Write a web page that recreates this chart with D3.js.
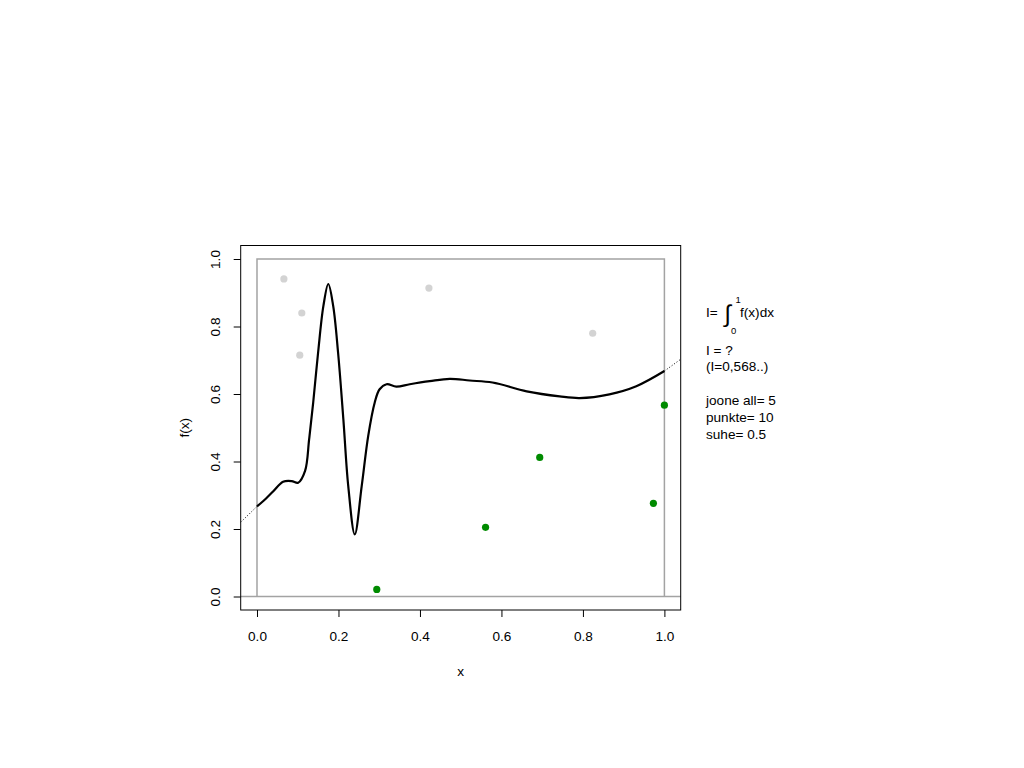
<!DOCTYPE html>
<html>
<head>
<meta charset="utf-8">
<script src="https://cdn.jsdelivr.net/npm/d3@7"></script>
<style>
  body { margin: 0; background: #fff; }
  svg { display: block; }
  text { font-family: "Liberation Sans", Arial, Helvetica, sans-serif; fill: #000; }
</style>
</head>
<body>
<svg id="chart" width="1024" height="768"></svg>
<script>
// ---- data ----
const curveX = [-0.040, 0.000, 0.0155, 0.040, 0.064, 0.085, 0.101, 0.118, 0.128, 0.138, 0.150, 0.163, 0.175, 0.187, 0.199, 0.212, 0.224, 0.240, 0.257, 0.273, 0.289, 0.301, 0.318, 0.342, 0.375, 0.424, 0.473, 0.522, 0.578, 0.662, 0.743, 0.792, 0.865, 0.931, 1.000, 1.040];
const curveY = [0.220, 0.267, 0.283, 0.312, 0.340, 0.342, 0.337, 0.372, 0.466, 0.575, 0.723, 0.861, 0.926, 0.861, 0.723, 0.525, 0.327, 0.184, 0.327, 0.476, 0.575, 0.614, 0.629, 0.622, 0.629, 0.638, 0.645, 0.640, 0.634, 0.608, 0.593, 0.588, 0.599, 0.623, 0.668, 0.703];
const grayX = [0.066, 0.110, 0.105, 0.422, 0.824];
const grayY = [0.941, 0.840, 0.715, 0.914, 0.780];
const greenX = [0.294, 0.561, 0.694, 0.973, 1.000];
const greenY = [0.021, 0.205, 0.412, 0.276, 0.567];
const xTicks = [0.0, 0.2, 0.4, 0.6, 0.8, 1.0];
const yTicks = [0.0, 0.2, 0.4, 0.6, 0.8, 1.0];
const infoLines = ["I = ?", "(I=0,568..)", "", "joone all= 5", "punkte= 10", "suhe= 0.5"];

// ---- layout ----
const svg = d3.select("#chart");
const L = 240.7, R = 680.7, T = 245.5, B = 610;
const x = d3.scaleLinear().domain([-0.04, 1.04]).range([L, R]);
const y = d3.scaleLinear().domain([-0.04, 1.04]).range([B, T]);
const fontSize = 13.6;
const ff = '"Liberation Sans", Arial, sans-serif';

// reference rectangle and y=0 line
const gray = "#a3a3a3";
svg.append("line").attr("x1", L).attr("x2", R).attr("y1", y(0)).attr("y2", y(0))
  .attr("stroke", gray).attr("stroke-width", 1.5);
svg.append("path")
  .attr("d", `M${x(0)},${y(0)}V${y(1)}H${x(1)}V${y(0)}`)
  .attr("fill", "none").attr("stroke", gray).attr("stroke-width", 1.5);

// curve
const pts = curveX.map((v, i) => [v, curveY[i]]);
const line = d3.line().x(d => x(d[0])).y(d => y(d[1])).curve(d3.curveCatmullRom.alpha(0.5));
const inside = pts.filter(d => d[0] >= 0 && d[0] <= 1);
const leftOut = pts.filter(d => d[0] <= 0);
const rightOut = pts.filter(d => d[0] >= 1);
svg.append("path").attr("d", line(leftOut)).attr("fill", "none")
  .attr("stroke", "#000").attr("stroke-width", 1).attr("stroke-dasharray", "1,2");
svg.append("path").attr("d", line(rightOut)).attr("fill", "none")
  .attr("stroke", "#000").attr("stroke-width", 1).attr("stroke-dasharray", "1,2");
svg.append("path").attr("d", line(inside)).attr("fill", "none")
  .attr("stroke", "#000").attr("stroke-width", 2.2).attr("stroke-linejoin", "round");

// points
svg.selectAll("circle.g").data(grayX.map((v, i) => [v, grayY[i]])).enter()
  .append("circle").attr("cx", d => x(d[0])).attr("cy", d => y(d[1])).attr("r", 3.6)
  .attr("fill", "#d3d3d3");
svg.selectAll("circle.gr").data(greenX.map((v, i) => [v, greenY[i]])).enter()
  .append("circle").attr("cx", d => x(d[0])).attr("cy", d => y(d[1])).attr("r", 3.6)
  .attr("fill", "#008B00");

// box
svg.append("rect").attr("x", L).attr("y", T).attr("width", R - L).attr("height", B - T)
  .attr("fill", "none").attr("stroke", "#000").attr("stroke-width", 1);

// axes
const xAxis = svg.append("g").attr("transform", `translate(0,${B})`)
  .call(d3.axisBottom(x).tickValues(xTicks).tickFormat(d3.format(".1f")).tickSize(7).tickPadding(14));
xAxis.select(".domain").remove();
xAxis.selectAll("text").attr("font-size", fontSize).style("font-family", ff);
xAxis.selectAll("line").attr("stroke", "#000");

const yAxis = svg.append("g").attr("transform", `translate(${L},0)`)
  .call(d3.axisLeft(y).tickValues(yTicks).tickFormat(d3.format(".1f")).tickSize(7));
yAxis.select(".domain").remove();
yAxis.selectAll("line").attr("stroke", "#000");
yAxis.selectAll("text")
  .attr("font-size", fontSize).style("font-family", ff)
  .attr("x", null).attr("dy", null)
  .attr("text-anchor", "middle").attr("dominant-baseline", "middle")
  .attr("transform", "translate(-24,0) rotate(-90)");

// axis titles
svg.append("text").attr("x", (L + R) / 2).attr("y", 672).attr("text-anchor", "middle")
  .attr("dominant-baseline", "middle").attr("font-size", fontSize).text("x");
svg.append("text").attr("transform", `translate(185,${(T + B) / 2}) rotate(-90)`)
  .attr("text-anchor", "middle").attr("dominant-baseline", "middle")
  .attr("font-size", fontSize).text("f(x)");

// integral formula
const fx = 706, fy = 313;
const f = svg.append("g");
f.append("text").attr("x", fx).attr("y", fy).attr("dominant-baseline", "middle")
  .attr("font-size", fontSize).text("I=");
f.append("text").attr("x", 724.5).attr("y", 322).
  attr("font-size", 24).style("font-family", ff).text("\u222B");
f.append("text").attr("x", 735.5).attr("y", 300).attr("dominant-baseline", "middle")
  .attr("font-size", 9.5).text("1");
f.append("text").attr("x", 731).attr("y", 331).attr("dominant-baseline", "middle")
  .attr("font-size", 9.5).text("0");
f.append("text").attr("x", 740).attr("y", fy).attr("dominant-baseline", "middle")
  .attr("font-size", fontSize).text("f(x)dx");

// info lines
const infoY0 = 351, infoStep = 16.8;
svg.selectAll("text.info").data(infoLines).enter().append("text")
  .attr("x", fx).attr("y", (d, i) => infoY0 + i * infoStep)
  .attr("dominant-baseline", "middle").attr("font-size", fontSize).text(d => d);
</script>
</body>
</html>
